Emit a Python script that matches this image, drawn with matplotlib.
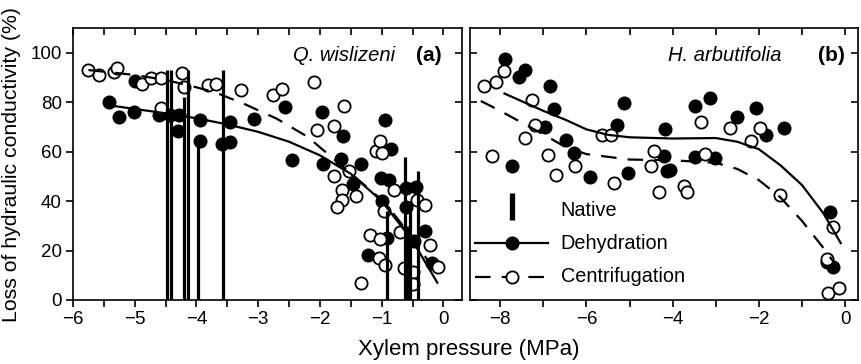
import matplotlib
matplotlib.use("Agg")
import matplotlib.pyplot as plt
from matplotlib.ticker import MultipleLocator

plt.rcParams['font.family'] = ['Liberation Sans', 'DejaVu Sans']

# ---------------- Panel (a): Q. wislizeni ----------------
a_dehyd_x = [-5.42, -5.25, -5.01, -5.0, -4.61, -4.43, -4.29, -4.3, -3.95, -3.94, -3.59, -3.46,
             -3.45, -3.07, -2.57, -2.46, -1.96, -1.95, -1.62, -1.66, -1.34, -1.46, -0.94, -0.85,
             -1.01, -0.88, -1.0, -0.92, -1.23, -0.61, -0.45, -0.6, -0.48, -0.3, -0.19]
a_dehyd_y = [80, 73.9, 76.1, 88.5, 75, 75, 75, 68.2, 72.7, 64.5, 63.2, 63.8,
             71.9, 73.2, 78, 56.8, 75.9, 55, 66.5, 57, 55, 47, 72.7, 61.2,
             49.3, 48.6, 39.9, 25.1, 18.2, 45.3, 45.7, 37.8, 24, 28, 14.9]

a_centr_x = [-5.76, -5.58, -5.33, -5.28, -4.88, -4.74, -4.58, -4.57, -4.24, -4.21, -3.82, -3.68,
             -3.28, -2.76, -2.61, -2.09, -2.05, -1.77, -1.61, -1.77, -1.53, -1.65, -1.64, -1.72,
             -1.42, -1.34, -1.19, -1.02, -1.04, -0.94, -1.1, -1.02, -0.99, -0.96, -0.8, -0.7,
             -0.64, -0.49, -0.5, -0.43, -0.3, -0.22, -0.09]
a_centr_y = [93, 90.8, 92.2, 94, 87.4, 89.6, 89.9, 77.7, 91.6, 86.2, 86.8, 87.2,
             84.9, 83.1, 85.4, 88.1, 68.9, 70.3, 78.6, 50.3, 52, 44.3, 40.5, 37.8,
             41.9, 7, 26.4, 24.6, 16.9, 14.2, 60.1, 64.2, 59.5, 35.8, 44.3, 27.7,
             12.8, 11.5, 6.5, 40.5, 38.5, 22.3, 13.5]

a_dehyd_fit_x = [-5.35, -4.5, -4.0, -3.5, -3.0, -2.5, -2.0, -1.5, -1.0, -0.5, -0.1]
a_dehyd_fit_y = [78.5, 75.5, 73.5, 71, 68, 64, 58.5, 51, 40, 24, 7]

a_centr_fit_x = [-5.75, -5.0, -4.5, -4.0, -3.7, -3.2, -2.7, -2.2, -1.8, -1.35, -1.0, -0.78, -0.5, -0.2]
a_centr_fit_y = [93, 91, 89, 86, 84, 79, 73.3, 66, 57.5, 48, 40.5, 34, 25, 14]

a_native_x = [-4.48, -4.41, -4.20, -4.14, -3.97, -3.57, -0.91, -0.63, -0.59, -0.55, -0.41]
a_native_y = [93, 93, 82, 93, 65, 93, 36, 58, 30, 40, 52]

# ---------------- Panel (b): H. arbutifolia ----------------
b_dehyd_x = [-7.88, -7.42, -7.57, -6.85, -6.76, -6.95, -6.47, -6.29, -7.72, -5.91, -5.13, -5.3,
             -5.03, -4.17, -4.21, -4.13, -3.48, -3.13, -3.48, -3.01, -4.07, -2.51, -2.06, -1.83,
             -1.41, -0.36, -0.27, -0.42]
b_dehyd_y = [97.3, 93.2, 90.3, 86.7, 77.4, 70, 64.6, 59.5, 54, 49.7, 79.7, 70.9,
             51.4, 69.2, 58.1, 52, 78.4, 81.8, 57.8, 57.4, 52.4, 74, 77.7, 66.9,
             69.6, 35.6, 13.2, 15.5]

b_centr_x = [-8.38, -8.09, -7.9, -7.26, -7.2, -7.43, -8.19, -6.9, -6.7, -6.26, -5.64, -5.43,
             -5.35, -4.43, -4.5, -4.31, -3.34, -2.68, -1.98, -2.18, -3.24, -3.74, -3.67, -1.51,
             -0.29, -0.42, -0.39, -0.14]
b_centr_y = [86.7, 88.1, 92.6, 80.8, 70.9, 65.5, 58.4, 58.8, 50.7, 54, 66.9, 66.9,
             47.3, 60.1, 54.3, 43.7, 72, 69.6, 69.6, 64.2, 59.1, 46.3, 43.8, 42.6,
             29.7, 16.5, 2.7, 4.7]

b_dehyd_fit_x = [-7.9, -7.0, -6.5, -6.0, -5.5, -5.0, -4.0, -3.0, -2.5, -2.0, -1.5, -1.0, -0.5, -0.1]
b_dehyd_fit_y = [83.5, 76.5, 73, 69, 66.8, 65.8, 65.3, 65.5, 64, 61, 54.5, 46.5, 35, 23]

b_centr_fit_x = [-8.45, -8.0, -7.0, -6.5, -6.0, -5.0, -4.0, -3.0, -2.5, -2.0, -1.5, -1.0, -0.5, -0.25]
b_centr_fit_y = [80.5, 76.5, 67, 62, 59, 56.8, 56.5, 55.5, 53, 48.5, 41.5, 32, 21, 15]

y_ticks = [0, 20, 40, 60, 80, 100]
a_x_ticks = [-6, -5, -4, -3, -2, -1, 0]
b_x_ticks = [-8, -6, -4, -2, 0]

labels = ["Native", "Dehydration", "Centrifugation"]

fig = plt.figure(figsize=(8.61, 3.64), dpi=100)
axa = fig.add_axes([73 / 861, 64 / 364, 389 / 861, 272 / 364])
axb = fig.add_axes([470 / 861, 64 / 364, 388 / 861, 272 / 364])

ms = 8.8
mew = 1.3
dash = (0, (7, 5))
tick_fs = 13.5


def draw(ax, dx, dy, cx, cy, dfx, dfy, cfx, cfy):
    ax.plot(dx, dy, 'o', ms=ms, mfc='black', mec='black', mew=mew, ls='none', zorder=3)
    ax.plot(cx, cy, 'o', ms=ms, mfc='white', mec='black', mew=mew, ls='none', zorder=4)
    ax.plot(dfx, dfy, '-', color='black', lw=1.6, zorder=5)
    ax.plot(cfx, cfy, color='black', lw=1.6, ls=dash, zorder=5)


draw(axa, a_dehyd_x, a_dehyd_y, a_centr_x, a_centr_y,
     a_dehyd_fit_x, a_dehyd_fit_y, a_centr_fit_x, a_centr_fit_y)
axa.vlines(a_native_x, 0, a_native_y, color='black', lw=2.3, zorder=6)

draw(axb, b_dehyd_x, b_dehyd_y, b_centr_x, b_centr_y,
     b_dehyd_fit_x, b_dehyd_fit_y, b_centr_fit_x, b_centr_fit_y)

for ax in (axa, axb):
    ax.set_ylim(0, 110)
    ax.set_yticks(y_ticks)
    for sp in ax.spines.values():
        sp.set_linewidth(1.2)

axa.set_xlim(-6, 0.3)
axa.set_xticks(a_x_ticks)
axa.set_xticklabels([("\u2212" + str(-t)) if t < 0 else str(t) for t in a_x_ticks])
axa.xaxis.set_minor_locator(MultipleLocator(0.5))
axa.tick_params(axis='x', which='both', direction='out', length=5, width=1.2,
                top=True, labelsize=tick_fs, pad=3)
axa.tick_params(axis='y', direction='out', length=5, width=1.2, labelsize=tick_fs,
                right=True, pad=3)

axb.set_xlim(-8.7, 0.3)
axb.set_xticks(b_x_ticks)
axb.set_xticklabels([("\u2212" + str(-t)) if t < 0 else str(t) for t in b_x_ticks])
axb.xaxis.set_minor_locator(MultipleLocator(1))
axb.tick_params(axis='x', which='both', direction='out', length=5, width=1.2,
                top=True, labelsize=tick_fs, pad=3)
axb.tick_params(axis='y', direction='in', length=5, width=1.2, labelleft=False,
                left=True, right=True)

# top ticks and right ticks point inward
for ax in (axa, axb):
    for t in ax.xaxis.get_major_ticks() + ax.xaxis.get_minor_ticks():
        t.tick2line.set_marker(3)
    for t in ax.yaxis.get_major_ticks():
        t.tick2line.set_marker(0)

# titles inside panels
axa.text(0.828, 0.90, "Q. wislizeni", transform=axa.transAxes, ha='right', va='center',
         fontsize=14.5, style='italic')
axa.text(0.915, 0.90, "(a)", transform=axa.transAxes, ha='center', va='center',
         fontsize=15, fontweight='bold')
axb.text(0.803, 0.90, "H. arbutifolia", transform=axb.transAxes, ha='right', va='center',
         fontsize=14.5, style='italic')
axb.text(0.932, 0.90, "(b)", transform=axb.transAxes, ha='center', va='center',
         fontsize=15, fontweight='bold')

# legend in panel (b)
T = axb.transAxes
axb.plot([0.1075, 0.1075], [0.294, 0.393], color='black', lw=3.8, transform=T,
         solid_capstyle='butt', zorder=7)
axb.plot([0.013, 0.201], [0.208, 0.208], color='black', lw=1.6, transform=T, zorder=7)
axb.plot([0.1075], [0.208], 'o', ms=ms, mfc='black', mec='black', mew=mew, transform=T, zorder=8)
axb.plot([0.013, 0.201], [0.086, 0.086], color='black', lw=1.6, ls=(0, (7, 5)),
         transform=T, zorder=7)
axb.plot([0.1075], [0.086], 'o', ms=ms, mfc='white', mec='black', mew=mew, transform=T, zorder=8)
for lab, yy in zip(labels, [0.328, 0.208, 0.086]):
    axb.text(0.234, yy, lab, transform=T, ha='left', va='center', fontsize=14.3)

fig.text(469 / 861, 14 / 364, "Xylem pressure (MPa)", ha='center', va='center', fontsize=16)
fig.text(12 / 861, (364 - 164) / 364, "Loss of hydraulic conductivity (%)", ha='center',
         va='center', rotation=90, fontsize=15.3)

fig.savefig("out.png", dpi=100)
